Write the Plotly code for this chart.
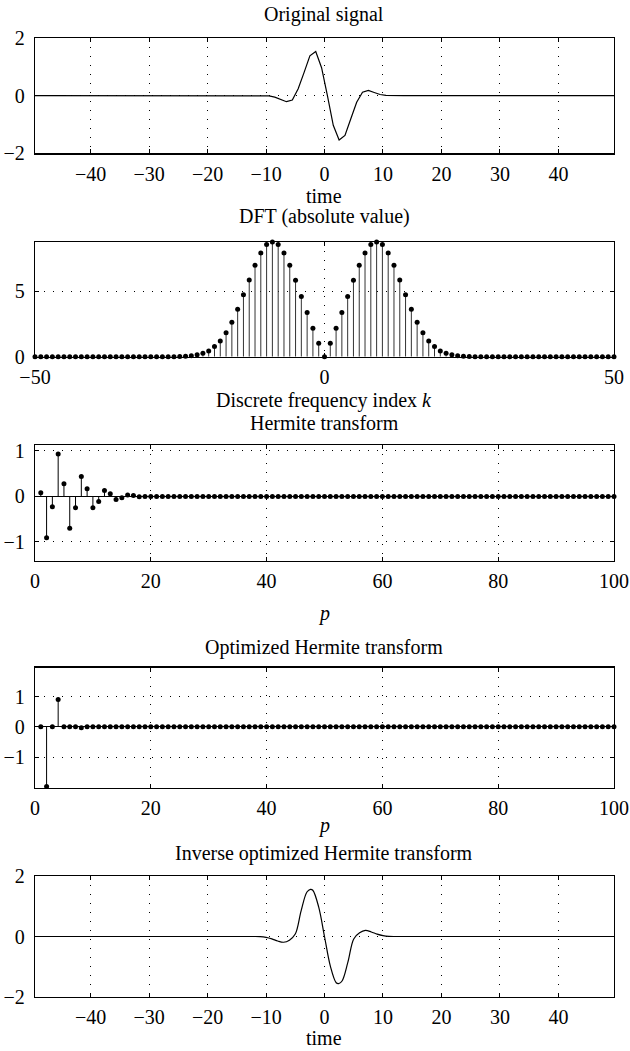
import plotly.graph_objects as go

# ---------------- data ----------------
# Panel 1: original signal, sampled at half-integer times -49.5 ... 49.5
signal_time = [t + 0.5 for t in range(-50, 50)]
signal_values = (
    [0.0] * 38 +
    [0.0, 0.0, -0.01, -0.05, -0.13, -0.21, -0.15, 0.24, 0.80, 1.38, 1.53, 0.97,
     0.0, -1.03, -1.54, -1.38, -0.80, -0.23, 0.12, 0.18, 0.11, 0.04, 0.01, 0.0] +
    [0.0] * 38
)

# Panel 2: |DFT|, k = -50 ... 50
dft_k = list(range(-50, 51))
dft_right = [1.02, 2.17, 3.37, 4.60, 5.83, 6.97, 7.92, 8.56, 8.75, 8.56, 7.92, 6.97,
             5.85, 4.73, 3.62, 2.63, 1.82, 1.20, 0.78, 0.44, 0.26, 0.14, 0.07, 0.03, 0.01]
dft_values = [0.0] * 25 + dft_right[::-1] + [0.0] + dft_right + [0.0] * 25

# Panel 3: Hermite transform, p = 1 ... 100
hermite_p = list(range(1, 101))
hermite_values = [0.08, -0.91, -0.23, 0.93, 0.28, -0.70, -0.25, 0.44, 0.17, -0.25,
                  -0.11, 0.13, 0.06, -0.07, -0.03, 0.03, 0.02, -0.01] + [0.0] * 82

# Panel 4: optimized Hermite transform, p = 1 ... 100
opt_values = [0.0, -1.97, 0.0, 0.90, 0.0, 0.0, 0.0, -0.03] + [0.0] * 92

# Panel 5: inverse optimized Hermite transform (smooth curve, read points)
inv_time = [-49.5, -13, -12, -11, -10, -9, -8, -7, -6, -5, -4, -3, -2.4, -2, -1, 0,
            1, 2, 2.4, 3, 4, 5, 6, 7, 8, 9, 10, 11, 12, 13, 49.5]
inv_values = [0.0, 0.0, 0.0, -0.005, -0.03, -0.08, -0.15, -0.19, -0.12, 0.08, 0.85, 1.47,
              1.56, 1.53, 0.98, 0.0, -0.98, -1.53, -1.56, -1.47, -0.85, -0.08, 0.12,
              0.20, 0.15, 0.08, 0.03, 0.005, 0.0, 0.0, 0.0]

titles = ["Original signal", "DFT (absolute value)", "Hermite transform",
          "Optimized Hermite transform", "Inverse optimized Hermite transform"]
xlabels = ["time", "Discrete frequency index <i>k</i>", "<i>p</i>", "<i>p</i>", "time"]

# ---------------- layout helpers ----------------
W, H = 630, 1051
FONT = "Liberation Serif, Times New Roman, serif"
FS = 20
LEFT, RIGHT = 35, 614
panels = [(38, 153.3), (242, 356.7), (445, 560.5), (667.7, 787.5), (876, 997)]
title_y = [15, 216, 423, 647, 853]
xlabel_y = [196, 401, 613, 825, 1038]

fig = go.Figure()

def stem(x, y, n, color="black"):
    up = [max(-v, 0) for v in y]
    down = [max(v, 0) for v in y]
    fig.add_trace(go.Scatter(
        x=x, y=y, mode="markers", xaxis=f"x{n}", yaxis=f"y{n}",
        marker=dict(color="black", size=5),
        error_y=dict(type="data", symmetric=False, array=up, arrayminus=down,
                     width=0, thickness=1, color=color),
        cliponaxis=False, showlegend=False, hoverinfo="skip"))

fig.add_trace(go.Scatter(x=signal_time, y=signal_values, mode="lines",
                         line=dict(color="black", width=1.2), xaxis="x", yaxis="y",
                         showlegend=False))
stem(dft_k, dft_values, 2, "#333333")
stem(hermite_p, hermite_values, 3)
stem(hermite_p, opt_values, 4)
fig.add_trace(go.Scatter(x=inv_time, y=inv_values, mode="lines",
                         line=dict(color="black", width=1.2, shape="spline", smoothing=1.0),
                         xaxis="x5", yaxis="y5", showlegend=False))

common = dict(showline=True, linecolor="black", linewidth=1.3, mirror="ticks",
              ticks="inside", ticklen=4, tickcolor="black", tickwidth=1,
              showgrid=True, gridcolor="black", gridwidth=1, griddash="1px,8px",
              zeroline=False, automargin=False, ticklabeloverflow="allow",
              tickfont=dict(family=FONT, size=FS, color="black"))

x_specs = [
    dict(range=[-49.5, 49.5], tickvals=[-40, -30, -20, -10, 0, 10, 20, 30, 40]),
    dict(range=[-50, 50], tickvals=[-50, 0, 50]),
    dict(range=[0, 100], tickvals=[0, 20, 40, 60, 80, 100]),
    dict(range=[0, 100], tickvals=[0, 20, 40, 60, 80, 100]),
    dict(range=[-49.5, 49.5], tickvals=[-40, -30, -20, -10, 0, 10, 20, 30, 40]),
]
y_specs = [
    dict(range=[-2, 2], tickvals=[-2, 0, 2]),
    dict(range=[0, 8.75], tickvals=[0, 5]),
    dict(range=[-1.41, 1.13], tickvals=[-1, 0, 1], zeroline=True, zerolinecolor="black", zerolinewidth=1),
    dict(range=[-2.0, 1.95], tickvals=[-1, 0, 1], zeroline=True, zerolinecolor="black", zerolinewidth=1),
    dict(range=[-2, 2], tickvals=[-2, 0, 2]),
]

layout = dict(template="none", width=W, height=H, margin=dict(l=0, r=0, t=0, b=0),
              paper_bgcolor="white", plot_bgcolor="white",
              font=dict(family=FONT, size=FS, color="black"))
annotations = []
xc = (LEFT + RIGHT) / 2 / W
for i, (top, bot) in enumerate(panels):
    n = "" if i == 0 else str(i + 1)
    xa = dict(common, domain=[LEFT / W, RIGHT / W], anchor=f"y{n}", ticklabelstandoff=2)
    xa.update(x_specs[i])
    ya = dict(common, domain=[1 - bot / H, 1 - top / H], anchor=f"x{n}", ticklabelstandoff=5)
    ya.update(y_specs[i])
    layout[f"xaxis{n}"] = xa
    layout[f"yaxis{n}"] = ya
    annotations.append(dict(text=titles[i], x=xc, y=1 - title_y[i] / H, xref="paper", yref="paper",
                            xanchor="center", yanchor="middle", showarrow=False,
                            font=dict(family=FONT, size=FS, color="black")))
    annotations.append(dict(text=xlabels[i], x=xc, y=1 - xlabel_y[i] / H, xref="paper", yref="paper",
                            xanchor="center", yanchor="middle", showarrow=False,
                            font=dict(family=FONT, size=FS, color="black")))
layout["annotations"] = annotations
fig.update_layout(**layout)

fig.write_html("out.html", config={"displayModeBar": False, "staticPlot": True},
               post_script="document.body.style.margin='0px'; document.body.style.overflow='hidden';")
